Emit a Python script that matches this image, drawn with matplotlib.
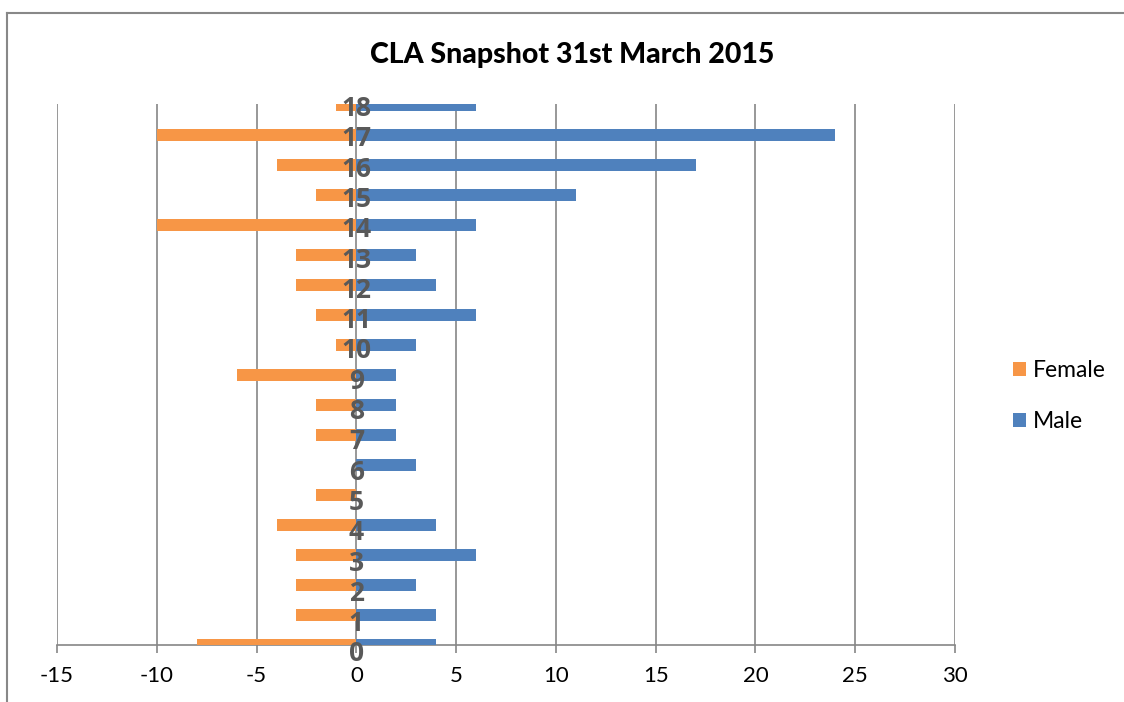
import matplotlib
matplotlib.use("Agg")
import matplotlib.pyplot as plt
from matplotlib.lines import Line2D
import numpy as np

plt.rcParams['font.family'] = ['Lato', 'DejaVu Sans']

ages = list(range(19))
female = [-8, -3, -3, -3, -4, -2, 0, -2, -2, -6, -1, -2, -3, -3, -10, -2, -4, -10, -1]
male = [4, 4, 3, 6, 4, 0, 3, 2, 2, 2, 3, 6, 4, 3, 6, 11, 17, 24, 6]
xticks = [-15, -10, -5, 0, 5, 10, 15, 20, 25, 30]

W, H = 1124, 702
fig = plt.figure(figsize=(W / 100, H / 100), dpi=100)
ax = fig.add_axes([57 / W, (H - 645) / H, (955 - 57) / W, (645 - 104) / H])

grid_col = '#868686'
ax.barh(ages, female, height=0.4, color='#F79646', label='Female', zorder=3)
ax.barh(ages, male, height=0.4, color='#4F81BD', label='Male', zorder=3)

ax.set_xlim(-15, 30)
ax.set_ylim(0, 18.05)
ax.set_xticks(xticks)
ax.set_xticklabels([str(t) for t in xticks], fontsize=16)
ax.set_yticks([])
ax.grid(axis='x', color=grid_col, linewidth=1.2, zorder=0)
ax.set_axisbelow(True)
for s in ['top', 'right', 'left']:
    ax.spines[s].set_visible(False)
ax.spines['bottom'].set_color(grid_col)
ax.spines['bottom'].set_linewidth(1.2)
ax.tick_params(axis='x', direction='out', length=6, width=1.2, color=grid_col, pad=9)

# category labels sit on the zero line, spaced a little wider than the bars
for a in ages:
    ax.text(0, a * 1.011 - 0.3, str(a), ha='center', va='center', fontsize=19,
            fontweight='bold', family=['Open Sans', 'DejaVu Sans'],
            color='#595959', zorder=5, clip_on=False)

fig.text(572 / W, 1 - 55 / H, 'CLA Snapshot 31st March 2015', ha='center', va='center',
         fontsize=20.5, fontweight='black')

handles, labels = ax.get_legend_handles_labels()
fig.legend(handles, labels, loc='center left', bbox_to_anchor=(992 / W, 1 - 396 / H),
           frameon=False, fontsize=16.5, handlelength=0.6, handleheight=0.6,
           handletextpad=0.3, labelspacing=1.3)

# chart area border
fig.add_artist(Line2D([7 / W, 1], [1 - 13 / H, 1 - 13 / H], color='#888888', linewidth=1.5,
                      transform=fig.transFigure))
fig.add_artist(Line2D([7 / W, 7 / W], [0, 1 - 13 / H], color='#888888', linewidth=1.5,
                      transform=fig.transFigure))

fig.savefig('out.png', dpi=100)
